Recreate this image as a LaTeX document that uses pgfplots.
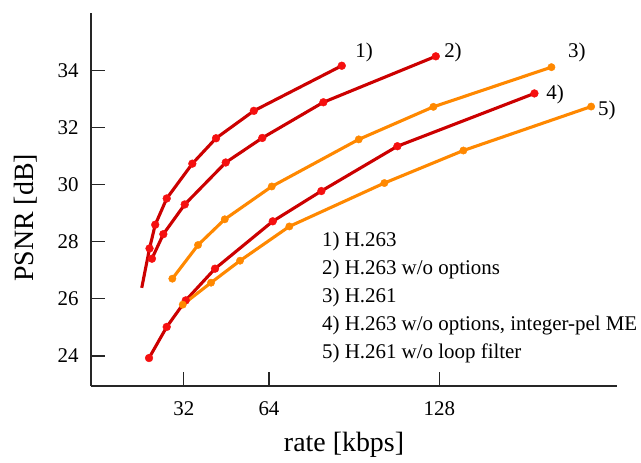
\documentclass[border=0pt]{standalone}
\usepackage{fontspec}
\setmainfont{Liberation Serif}
\usepackage{pgfplots}
\pgfplotsset{compat=1.18}
\definecolor{dkred}{RGB}{204,0,0}
\definecolor{brred}{RGB}{245,16,16}
\definecolor{orng}{RGB}{255,136,0}

\begin{document}
\begin{tikzpicture}
\useasboundingbox (-91bp,-77bp) rectangle (550bp,386bp);
\begin{axis}[
  at={(0,0)}, anchor=south west,
  scale only axis, width=526bp, height=372.5bp,
  xmin=-2.9, xmax=194.8, ymin=22.95, ymax=36,
  clip=false,
  axis x line*=bottom, axis y line*=left,
  axis line style={black!85, line width=1.1bp},
  xtick={32,64,128}, ytick={24,26,...,34},
  tick align=inside, major tick length=14bp,
  tick style={black!85, line width=1.1bp},
  /pgf/number format/assume math mode=true,
  tick label style={font=\fontsize{21}{25}\selectfont},
  yticklabel style={xshift=-9bp},
  xticklabel style={yshift=-12bp},
  xlabel={rate [kbps]},
  xlabel style={at={(axis description cs:0.481,-0.1584)}, anchor=center, font=\fontsize{28}{32}\selectfont},
  ylabel={PSNR [dB]},
  ylabel style={at={(axis description cs:-0.1236,0.451)}, anchor=center, font=\fontsize{28}{32}\selectfont},
  redline/.style={dkred, line width=3.1bp, mark=*, mark size=3.9bp, mark options={solid, fill=brred, draw=brred, line width=0.4bp}},
  orline/.style={orng, line width=3.1bp, mark=*, mark size=3.7bp, mark options={solid, fill=orng, draw=orng, line width=0.4bp}},
]
% 1) H.263
\addplot[redline, mark indices={2,3,4,5,6,7,8}] coordinates {
  (16.17,26.39) (19.10,27.77) (21.24,28.60) (25.56,29.52)
  (35.19,30.74) (44.10,31.63) (58.31,32.59) (91.35,34.17)
};
% 2) H.263 w/o options
\addplot[redline] coordinates {
  (20.00,27.41) (24.29,28.27) (32.33,29.31) (47.74,30.78)
  (61.47,31.64) (84.44,32.89) (126.69,34.50)
};
% 3) H.261
\addplot[orline] coordinates {
  (27.67,26.71) (37.33,27.89) (47.37,28.79) (65.04,29.94)
  (97.74,31.59) (125.79,32.73) (170.15,34.12)
};
% 4) H.263 w/o options, integer-pel ME
\addplot[redline] coordinates {
  (18.91,23.93) (25.56,25.02) (32.71,25.95) (43.72,27.06)
  (65.41,28.72) (83.68,29.78) (112.26,31.35) (163.76,33.20)
};
% 5) H.261 w/o loop filter
\addplot[orline] coordinates {
  (31.58,25.80) (42.22,26.57) (53.12,27.34) (71.65,28.54)
  (107.37,30.06) (137.07,31.20) (185.08,32.74)
};

\begin{scope}[every node/.style={anchor=base west, inner sep=0pt, font=\fontsize{21}{25}\selectfont}]
\node at (axis cs:96.4,34.45) {1)};
\node at (axis cs:129.8,34.45) {2)};
\node at (axis cs:176.4,34.45) {3)};
\node at (axis cs:168.2,33.00) {4)};
\node at (axis cs:187.6,32.43) {5)};
\node at (axis cs:83.9,27.82) {1) H.263};
\node at (axis cs:83.9,26.84) {2) H.263 w/o options};
\node at (axis cs:83.9,25.86) {3) H.261};
\node at (axis cs:83.9,24.89) {4) H.263 w/o options, integer-pel ME};
\node at (axis cs:83.9,23.91) {5) H.261 w/o loop filter};
\end{scope}
\end{axis}
\end{tikzpicture}
\end{document}
